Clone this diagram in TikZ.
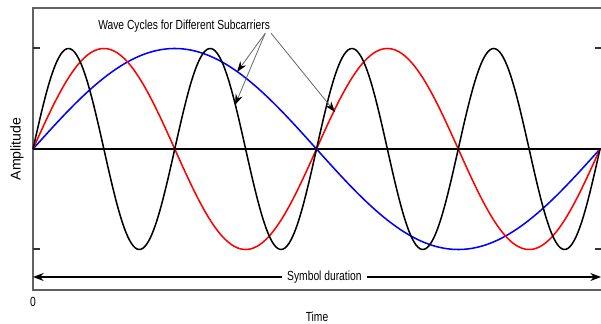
\documentclass[tikz,border=0pt]{standalone}
\usepackage{fontspec}
\setmainfont{Liberation Sans}
\newfontfamily\narrowsans[FakeStretch=0.78]{Liberation Sans}
\usepackage{tikz}
\usetikzlibrary{
    arrows.meta,
    calc
}
\tikzset{
    plot frame/.style={draw=black!62, line width=1.1pt},
    plot tick/.style={draw=black!80, line width=0.8pt},
    plot zero/.style={draw=black, line width=1.1pt},
    wave/.style={line width=1.15pt, line join=round},
    wave label/.style={font=\fontsize{9.9}{12}\selectfont\narrowsans, inner sep=0pt},
    axis label/.style={font=\fontsize{10.6}{12}\selectfont, inner sep=0pt},
    pointer arrow/.style={draw=black!60, line width=0.6pt, -{Stealth[length=8pt, width=5.5pt, color=black]}},
    span arrow/.style={line width=0.9pt, {Stealth[length=8pt, width=6pt]}-{Stealth[length=8pt, width=6pt]}}
}

\begin{document}
\begin{tikzpicture}[x=0.75pt, y=-0.75pt]
    \useasboundingbox (0,0) rectangle (601,324);

    \draw[plot frame] (601,8) -- (33,8) -- (33,290) -- (601,290);
    \foreach \yy in {48,249} {
        \draw[plot tick] (33,\yy) -- (40,\yy);
        \draw[plot tick] (595,\yy) -- (601,\yy);
    }
    \draw[plot zero] (33,149) -- (601,149);

    \foreach \cyc/\col in {1/blue,2/red,4/black}
        \draw[wave, draw=\col] plot[domain=0:567, samples=300, smooth] ({33+\x}, {149-100.5*sin(\cyc*\x/567*360)});

    \node[axis label, rotate=90] (amplitude) at (17,149) {Amplitude};
    \node[wave label] (origin) at (33,302) {0};
    \node[wave label] (time) at (317,316.5) {Time};
    \node[wave label, anchor=base west] (caption) at (98,29.3) {Wave Cycles for Different Subcarriers};

    \coordinate (slow) at (237,72);
    \coordinate (fast) at (235,105);
    \coordinate (mid) at (335,112);
    \draw[pointer arrow] ($(caption.south east)+(-5,1)$) -- (slow);
    \draw[pointer arrow] ($(caption.south east)+(-5,1)$) -- (fast);
    \draw[pointer arrow] ($(caption.south east)+(1,1)$) -- (mid);

    \coordinate (start) at (33,277);
    \coordinate (end) at (601,277);
    \draw[span arrow] (start) -- (end)
        node[wave label, pos=0.513, fill=white, inner xsep=4pt, inner ysep=1pt] (duration) {Symbol duration};
\end{tikzpicture}
\end{document}
